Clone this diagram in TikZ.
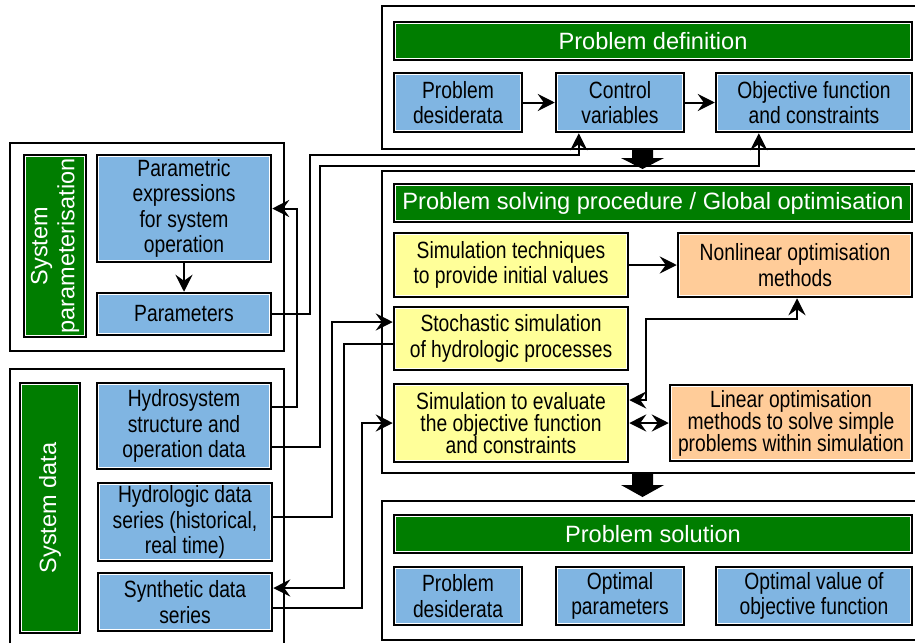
\documentclass[tikz,border=0pt]{standalone}
\usepackage{fontspec}
\setmainfont{Liberation Sans}
\newfontfamily\narrowfont{Liberation Sans}[FakeStretch=0.82]
\usetikzlibrary{arrows.meta}
\definecolor{dgreen}{RGB}{0,125,0}
\definecolor{boxblue}{RGB}{128,181,226}
\definecolor{boxyellow}{RGB}{255,255,153}
\definecolor{boxorange}{RGB}{255,204,153}
\begin{document}
\begin{tikzpicture}[x=1pt,y=-1pt,
  frame/.style={line width=2pt},
  conn/.style={line width=2pt,-{Stealth[length=17pt,width=17pt,inset=6pt]}},
  dconn/.style={line width=2pt,{Stealth[length=17pt,width=17pt,inset=6pt]}-{Stealth[length=17pt,width=17pt,inset=6pt]}},
  boxbase/.style={draw=black,line width=2.5pt,inner sep=0pt,align=center,
    path picture={\draw[white,line width=3.8pt] (path picture bounding box.south west) rectangle (path picture bounding box.north east);}},
  txt/.style={font=\narrowfont\fontsize{23.5}{25.5}\selectfont},
  bluebox/.style={boxbase,txt,fill=boxblue},
  yellowbox/.style={boxbase,txt,fill=boxyellow},
  orangebox/.style={boxbase,txt,fill=boxorange},
  title/.style={boxbase,fill=dgreen,text=white,font=\fontsize{23.6}{26}\selectfont},
  sidetitle/.style={boxbase,fill=dgreen,text=white,rotate=90,font=\fontsize{23.5}{27}\selectfont},
]
\useasboundingbox (0,0) rectangle (915,643);

% frames
\draw[frame] (915,6) -- (382,6) -- (382,149) -- (915,149);
\draw[frame] (915,171) -- (382,171) -- (382,473) -- (915,473);
\draw[frame] (915,501) -- (382,501) -- (382,640) -- (915,640);
\draw[frame] (10,143) rectangle (284,351);
\draw[frame] (10,643) -- (10,369) -- (284,369) -- (284,643);

% problem definition
\node[title, minimum width=518pt, minimum height=38pt] (pdt) at (653,41) {Problem definition};
\node[bluebox, minimum width=128pt, minimum height=59pt] (pd) at (458,102.5) {Problem\\desiderata};
\node[bluebox, minimum width=128pt, minimum height=59pt] (cv) at (620,102.5) {Control\\variables};
\node[bluebox, minimum width=196pt, minimum height=59pt] (of) at (814,102.5) {Objective function\\and constraints};

% problem solving
\node[title, minimum width=518pt, minimum height=38pt] (pst) at (653,203) {Problem solving procedure / Global optimisation};
\node[yellowbox, minimum width=234pt, minimum height=64pt] (st) at (511,265) {Simulation techniques\\to provide initial values};
\node[orangebox, minimum width=234pt, minimum height=64pt] (nl) at (795,265) {Nonlinear optimisation\\methods};
\node[yellowbox, minimum width=234pt, minimum height=63pt] (sto) at (511,338.5) {Stochastic simulation\\of hydrologic processes};
\node[yellowbox, minimum width=234pt, minimum height=78pt, font=\narrowfont\fontsize{23.5}{22}\selectfont] (se) at (511,423) {Simulation to evaluate\\the objective function\\and constraints};
\node[orangebox, minimum width=242pt, minimum height=76pt, font=\narrowfont\fontsize{23.5}{22}\selectfont] (lin) at (791,423) {Linear optimisation\\methods to solve simple\\problems within simulation};

% problem solution
\node[title, minimum width=518pt, minimum height=38pt] (sot) at (653,534) {Problem solution};
\node[bluebox, minimum width=128pt, minimum height=58pt] (pd2) at (458,596) {Problem\\desiderata};
\node[bluebox, minimum width=128pt, minimum height=58pt] (op) at (620,596) {Optimal\\parameters};
\node[bluebox, minimum width=196pt, minimum height=58pt] (ov) at (814,596) {Optimal value of\\objective function};

% system parameterisation
\node[sidetitle, minimum width=182pt, minimum height=62pt] (spt) at (55,246) {System\\parameterisation};
\node[bluebox, minimum width=174pt, minimum height=107pt] (pe) at (184,208.5) {Parametric\\expressions\\for system\\operation};
\node[bluebox, minimum width=174pt, minimum height=42pt] (par) at (184,314) {Parameters};

% system data
\node[sidetitle, minimum width=250pt, minimum height=60pt] (sdt) at (50,508) {System data};
\node[bluebox, minimum width=174pt, minimum height=86pt] (hyd) at (184,426) {Hydrosystem\\structure and\\operation data};
\node[bluebox, minimum width=174pt, minimum height=78pt] (hgd) at (185,522) {Hydrologic data\\series (historical,\\real time)};
\node[bluebox, minimum width=174pt, minimum height=58pt] (syn) at (185,602) {Synthetic data\\series};

% connectors
\draw[conn] (pd.east) -- (cv.west);
\draw[conn] (cv.east) -- (of.west);
\draw[conn] (par.east) -| (310,155) -| ([xshift=24pt]cv.south west);
\draw[conn] ([yshift=-21pt]hyd.east) -| (320,166) -| ([xshift=44pt]of.south west);
\draw[conn] ([yshift=19pt]hyd.east) -| ([xshift=25pt]pe.east) -- (pe.east);
\draw[conn] (pe.south) -- (par.north);
\draw[conn] ([yshift=5pt]hgd.east) -| (332,322) -- ([yshift=16.5pt]sto.west);
\draw[conn] ([yshift=-5.5pt]sto.west) -| (344,588) -- ([yshift=14pt]syn.east);
\draw[conn] ([yshift=-6pt]syn.east) -| (362,423) -- (se.west);
\draw[conn] (st.east) -- (nl.west);
\draw[dconn] ([xshift=2pt]nl.south) |- (646,319) |- ([yshift=23pt]se.east);
\draw[dconn] (se.east) -- (lin.west);

% block arrows
\fill (632,149) -- (653,149) -- (653,158) -- (664,158) -- (642.5,169) -- (621,158) -- (632,158) -- cycle;
\fill (632,473) -- (653,473) -- (653,485) -- (664,485) -- (642.5,497) -- (621,485) -- (632,485) -- cycle;
\end{tikzpicture}
\end{document}
